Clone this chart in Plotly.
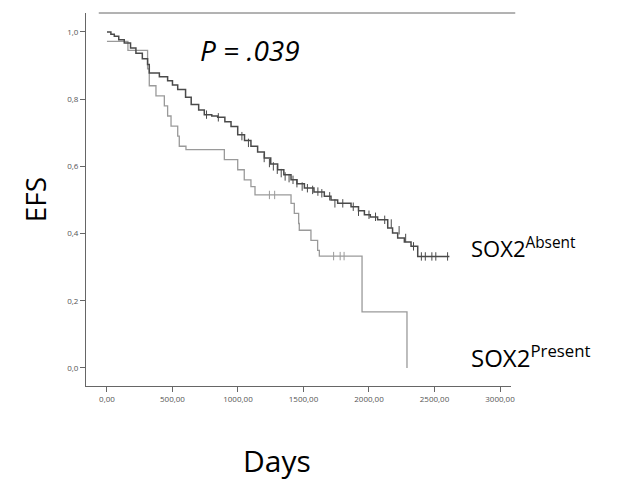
import plotly.graph_objects as go

# SOX2 absent: event steps (days, EFS)
absent_days = [0, 30, 56, 90, 132, 180, 221, 270, 310, 323, 400, 463, 500, 540, 600, 643, 700,
               743, 800, 845, 900, 947, 998, 1050, 1099, 1150, 1201, 1250, 1303, 1350, 1405,
               1450, 1507, 1580, 1659, 1710, 1761, 1863, 1920, 1965, 2010, 2066, 2143, 2180,
               2219, 2270, 2321, 2372, 2614]
absent_efs = [1.0, 0.993, 0.987, 0.977, 0.967, 0.952, 0.937, 0.92, 0.903, 0.878, 0.867, 0.855,
              0.842, 0.829, 0.806, 0.784, 0.768, 0.754, 0.75, 0.746, 0.733, 0.719, 0.694, 0.677,
              0.66, 0.643, 0.625, 0.607, 0.59, 0.575, 0.56, 0.548, 0.536, 0.524, 0.511, 0.5,
              0.49, 0.48, 0.468, 0.456, 0.449, 0.441, 0.417, 0.402, 0.387, 0.375, 0.362, 0.332,
              0.332]
absent_cens_days = [760, 850, 1030, 1080, 1200, 1240, 1270, 1300, 1330, 1360, 1390, 1420, 1450,
                    1490, 1530, 1570, 1610, 1640, 1700, 1740, 1800, 1880, 1920, 2000, 2050,
                    2120, 2170, 2230, 2280, 2340, 2400, 2430, 2480, 2510, 2600]
absent_cens_efs = [0.754, 0.746, 0.69, 0.67, 0.625, 0.61, 0.6, 0.59, 0.58, 0.57, 0.565, 0.56,
                   0.55, 0.54, 0.535, 0.53, 0.525, 0.52, 0.511, 0.49, 0.49, 0.48, 0.465, 0.456,
                   0.45, 0.441, 0.43, 0.41, 0.387, 0.362, 0.332, 0.332, 0.332, 0.332, 0.332]

# SOX2 present
present_days = [0, 160, 310, 323, 374, 438, 463, 489, 540, 552, 603, 896, 998, 1048, 1099, 1130,
                1405, 1430, 1463, 1468, 1557, 1608, 1621, 1947, 2290]
present_efs = [0.972, 0.945, 0.89, 0.84, 0.81, 0.78, 0.75, 0.72, 0.69, 0.66, 0.65, 0.62, 0.59,
               0.56, 0.54, 0.515, 0.49, 0.46, 0.43, 0.41, 0.38, 0.35, 0.333, 0.167, 0.0]
present_cens_days = [1240, 1280, 1730, 1780, 1810]
present_cens_efs = [0.515, 0.515, 0.333, 0.333, 0.333]

x_ticks = [0, 500, 1000, 1500, 2000, 2500, 3000]
x_labels = ["0,00", "500,00", "1000,00", "1500,00", "2000,00", "2500,00", "3000,00"]
y_ticks = [0, 0.2, 0.4, 0.6, 0.8, 1.0]
y_labels = ["0,0", "0,2", "0,4", "0,6", "0,8", "1,0"]

dark = "#4a4a4a"
light = "#9a9a9a"

fig = go.Figure()
fig.add_trace(go.Scatter(x=present_days, y=present_efs, mode="lines", line_shape="hv",
                         line=dict(color=light, width=1.3)))
fig.add_trace(go.Scatter(x=present_cens_days, y=present_cens_efs, mode="markers",
                         marker=dict(symbol="line-ns", size=6, line=dict(color=light, width=1))))
fig.add_trace(go.Scatter(x=absent_days, y=absent_efs, mode="lines", line_shape="hv",
                         line=dict(color=dark, width=1.5)))
fig.add_trace(go.Scatter(x=absent_cens_days, y=absent_cens_efs, mode="markers",
                         marker=dict(symbol="line-ns", size=6, line=dict(color=dark, width=1))))

fig.add_annotation(x=0.385, y=0.945, xref="paper", yref="y", text="<i>P = .039</i>",
                   showarrow=False, xanchor="center", font=dict(size=28, color="black"))
fig.add_annotation(x=1.0, xref="paper", y=0.36, yref="y", xanchor="left", showarrow=False,
                   text="SOX2<sup>Absent</sup>", font=dict(size=22, color="black"), xshift=-42)
fig.add_annotation(x=1.0, xref="paper", y=0.035, yref="y", xanchor="left", showarrow=False,
                   text="SOX2<sup>Present</sup>", font=dict(size=24, color="black"), xshift=-42)
fig.add_annotation(x=-0.17, xref="paper", y=0.5, yref="paper", text="EFS", textangle=-90,
                   showarrow=False, font=dict(size=28, color="black"))
fig.add_annotation(x=0.45, xref="paper", y=-0.2, yref="paper", text="Days", yanchor="middle",
                   showarrow=False, font=dict(size=30, color="black"))
fig.add_shape(type="line", xref="paper", yref="paper", x0=0.03, x1=1.01, y0=1.0, y1=1.0,
              line=dict(color="#666", width=1))

fig.update_xaxes(range=[-160, 3084], tickvals=x_ticks, ticktext=x_labels, showgrid=False,
                 zeroline=False, showline=True, linecolor="#666", ticks="outside", ticklen=5,
                 tickcolor="#666", tickfont=dict(size=8, color="#555"), automargin=False)
fig.update_yaxes(range=[-0.0536, 1.0565], tickvals=y_ticks, ticktext=y_labels, showgrid=False,
                 zeroline=False, showline=True, linecolor="#666", ticks="outside", ticklen=5,
                 tickcolor="#666", tickfont=dict(size=8, color="#555"), automargin=False)
fig.update_layout(width=641, height=481, showlegend=False, plot_bgcolor="white",
                  paper_bgcolor="white", font=dict(family="Open Sans"),
                  margin=dict(l=78, r=138, t=5, b=103))
fig.write_html("out.html")
